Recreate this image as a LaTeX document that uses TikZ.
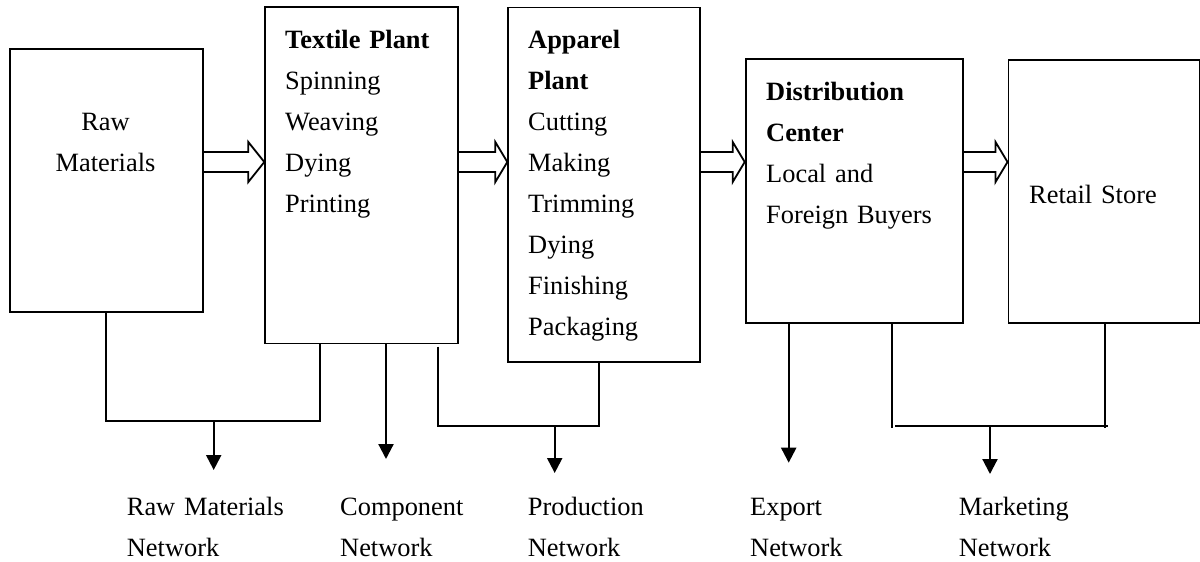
\documentclass[tikz,border=0pt]{standalone}
\usepackage{fontspec}
\setmainfont{Liberation Serif}
\usetikzlibrary{arrows.meta,calc}

% outlined block arrow from the east side of #1 to the west side of #2;
% #3 is the length of the head
\newcommand{\blockarrow}[3]{%
  \draw[flow]
    (#1.east |- 0,152) -- ($(#2.west |- 0,152)+(-#3,0)$)
    -- ($(#2.west |- 0,142)+(-#3,0)$) -- (#2.west |- 0,162)
    -- ($(#2.west |- 0,182)+(-#3,0)$) -- ($(#2.west |- 0,172)+(-#3,0)$)
    -- (#1.east |- 0,172);
}

\begin{document}
\begin{tikzpicture}[x=1pt,y=-1pt,
  stage/.style={draw, line width=1.9pt, rectangle, inner sep=0pt, anchor=north west},
  txt/.style={inner sep=0pt, align=left, text width=220pt, anchor=base west,
    font=\fontsize{26.4}{41}\selectfont},
  ctxt/.style={inner sep=0pt, align=center, text width=180pt, anchor=base,
    font=\fontsize{26.4}{41}\selectfont},
  flow/.style={line width=1.8pt, line join=miter},
  wire/.style={line width=2pt},
  down/.style={line width=2.2pt, -{Triangle[width=15pt,length=15pt]}}
]
\useasboundingbox (0,0) rectangle (1200,562);

% stages of the chain
\node[stage, minimum width=192.7pt, minimum height=263.6pt] (raw)     at (9,47.7) {};
\node[stage, minimum width=192.4pt, minimum height=336.5pt] (textile) at (264.3,6) {};
\node[stage, minimum width=192pt,   minimum height=354.8pt] (apparel) at (507.3,6.5) {};
\node[stage, minimum width=217.6pt, minimum height=264pt]   (dist)    at (744.7,58.3) {};
\node[stage, minimum width=191.2pt, minimum height=263.3pt] (retail)  at (1007.5,59) {};

% stage texts
\node[ctxt] (rawtxt) at (105.5,130) {Raw\\Materials};
\node[txt] (textiletxt) at (285,48.3)
  {\textbf{Textile Plant}\\Spinning\\Weaving\\Dying\\Printing};
\node[txt] (appareltxt) at (528,48.3)
  {\textbf{Apparel}\\\textbf{Plant}\\Cutting\\Making\\Trimming\\Dying\\Finishing\\Packaging};
\node[txt] (disttxt) at (766,100)
  {\textbf{Distribution}\\\textbf{Center}\\Local and\\Foreign Buyers};
\node[txt] (retailtxt) at (1029,203) {Retail Store};

% flow between stages
\blockarrow{raw}{textile}{16}
\blockarrow{textile}{apparel}{12}
\blockarrow{apparel}{dist}{12}
\blockarrow{dist}{retail}{12}

% network labels
\node[txt] (rmnet)   at (126.7,515.7) {Raw Materials\\Network};
\node[txt] (compnet) at (340,515.7)   {Component\\Network};
\node[txt] (prodnet) at (527.7,515.7) {Production\\Network};
\node[txt] (expnet)  at (750,515.7)   {Export\\Network};
\node[txt] (mktnet)  at (958.6,515.7) {Marketing\\Network};

% junctions and arrow ends
\coordinate (rmj)     at (213.7,421);
\coordinate (rmtip)   at (213.7,470);
\coordinate (comptip) at (386,459);
\coordinate (prodtop) at (437.7,346.7);
\coordinate (prodj)   at (554.7,425.7);
\coordinate (prodtip) at (554.7,473);
\coordinate (exptip)  at (788.7,462.7);
\coordinate (mktl)    at (895,425.7);
\coordinate (mktr)    at (1108,425.7);
\coordinate (mktj)    at (990,425.7);
\coordinate (mkttip)  at (990,474);

% raw materials network
\draw[wire] (raw.south) -- (raw.south |- rmj) -| ($(textile.south west)+(55.7,0)$);
\draw[down] (rmj) -- (rmtip);

% component network
\draw[down] (textile.south -| comptip) -- (comptip);

% production network
\draw[wire] (prodtop) -- (prodtop |- prodj) -| ($(apparel.south west)+(91.7,0)$);
\draw[down] (prodj) -- (prodtip);

% export network
\draw[down] (dist.south -| exptip) -- (exptip);

% marketing network
\draw[wire] ($(dist.south west)+(147.3,0)$) -- ($(dist.south west)+(147.3,103.4)$);
\draw[wire] ($(retail.south west)+(97.5,0)$) -- ($(retail.south west)+(97.5,103.4)$);
\draw[wire] (mktl) -- (mktr);
\draw[down] (mktj) -- (mkttip);
\end{tikzpicture}
\end{document}
